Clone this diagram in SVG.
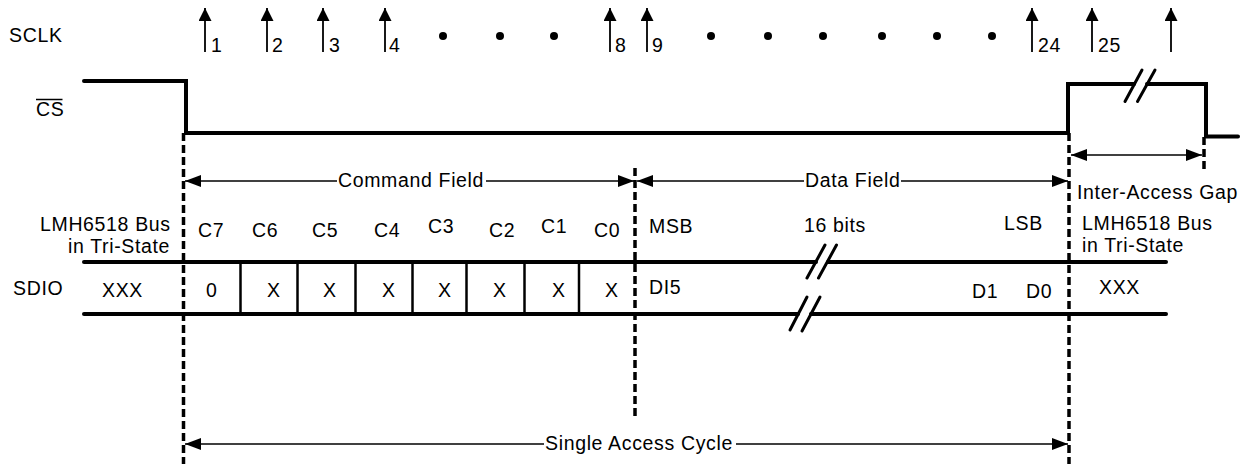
<svg xmlns="http://www.w3.org/2000/svg" width="1252" height="464" viewBox="0 0 1252 464">
<style>
text{font-family:"Liberation Sans",Arial,sans-serif;font-size:19.5px;letter-spacing:0.65px;fill:#000}
.sig{fill:none;stroke:#000;stroke-width:4;stroke-linecap:round;stroke-linejoin:miter}
.dash{fill:none;stroke:#000;stroke-width:3.5;stroke-dasharray:8 4}
.dim{fill:none;stroke:#000;stroke-width:1.5}
.clk{fill:none;stroke:#000;stroke-width:1.8}
.brk{fill:none;stroke:#000;stroke-width:3;stroke-linecap:round}
.div{fill:none;stroke:#000;stroke-width:2.5}
</style>
<defs>
<marker id="ah" markerUnits="userSpaceOnUse" markerWidth="17" markerHeight="13" refX="16" refY="6" orient="auto-start-reverse" viewBox="0 0 17 13">
<path d="M0,0 L16,6 L0,12 z" fill="#000"/>
</marker>
<marker id="ck" markerUnits="userSpaceOnUse" markerWidth="14" markerHeight="14" refX="13" refY="6.5" orient="auto" viewBox="0 0 14 14">
<path d="M0,0 L13,6.5 L0,13 z" fill="#000"/>
</marker>
</defs>
<rect width="1252" height="464" fill="#fff"/>

<g id="sclk">
<text x="9" y="42">SCLK</text>
<g class="clk" marker-end="url(#ck)">
<line x1="205" y1="52" x2="205" y2="8"/>
<line x1="267" y1="52" x2="267" y2="8"/>
<line x1="323" y1="52" x2="323" y2="8"/>
<line x1="385" y1="52" x2="385" y2="8"/>
<line x1="610" y1="52" x2="610" y2="8"/>
<line x1="647" y1="52" x2="647" y2="8"/>
<line x1="1032" y1="52" x2="1032" y2="8"/>
<line x1="1092" y1="52" x2="1092" y2="8"/>
<line x1="1171" y1="52" x2="1171" y2="8"/>
</g>
<text x="211" y="52">1</text>
<text x="272" y="52">2</text>
<text x="329" y="52">3</text>
<text x="389" y="52">4</text>
<text x="615" y="52">8</text>
<text x="652" y="52">9</text>
<text x="1038" y="52">24</text>
<text x="1098" y="52">25</text>
<g fill="#000">
<circle cx="443" cy="36" r="4"/><circle cx="500" cy="36" r="4"/><circle cx="554" cy="36" r="4"/>
<circle cx="711" cy="36" r="4"/><circle cx="768" cy="36" r="4"/><circle cx="823" cy="36" r="4"/>
<circle cx="882" cy="36" r="4"/><circle cx="937" cy="36" r="4"/><circle cx="992" cy="36" r="4"/>
</g>
</g>

<g id="cs">
<text x="36" y="116">CS</text>
<line x1="36" y1="99.5" x2="62.5" y2="99.5" stroke="#000" stroke-width="1.5"/>
<path class="sig" d="M84,81 H186 V133 H1068 V84 H1134"/>
<path class="sig" d="M1147,84 H1206 V136.5 H1238"/>
<line class="brk" x1="1125" y1="101.5" x2="1142" y2="70"/>
<line class="brk" x1="1137.5" y1="101.5" x2="1155" y2="70"/>
</g>

<g id="sdio">
<text x="13" y="295">SDIO</text>
<path class="sig" d="M84,262 H816"/>
<path class="sig" d="M828,262 H1166"/>
<path class="sig" d="M84,314 H798"/>
<path class="sig" d="M811,314 H1166"/>
<line class="brk" x1="807" y1="278" x2="825" y2="245"/>
<line class="brk" x1="818.5" y1="278" x2="836.5" y2="245"/>
<line class="brk" x1="790" y1="330" x2="807" y2="297"/>
<line class="brk" x1="802" y1="331" x2="820" y2="297"/>
<g class="div">
<line x1="240.5" y1="262" x2="240.5" y2="314"/>
<line x1="297.5" y1="262" x2="297.5" y2="314"/>
<line x1="355.5" y1="262" x2="355.5" y2="314"/>
<line x1="412.5" y1="262" x2="412.5" y2="314"/>
<line x1="466.5" y1="262" x2="466.5" y2="314"/>
<line x1="524.5" y1="262" x2="524.5" y2="314"/>
<line x1="579" y1="262" x2="579" y2="314"/>
</g>
<text x="102" y="297">XXX</text>
<text x="206" y="297">0</text>
<text x="267" y="297">X</text>
<text x="323" y="297">X</text>
<text x="382" y="297">X</text>
<text x="438" y="297">X</text>
<text x="493" y="297">X</text>
<text x="552" y="297">X</text>
<text x="605" y="297">X</text>
<text x="649" y="294">DI5</text>
<text x="972" y="298">D1</text>
<text x="1026" y="298">D0</text>
<text x="1099" y="294">XXX</text>
</g>

<g id="labels">
<text x="40" y="231">LMH6518 Bus</text>
<text x="68" y="253">in Tri-State</text>
<text x="1082" y="230">LMH6518 Bus</text>
<text x="1082" y="252">in Tri-State</text>
<text x="198" y="237">C7</text>
<text x="252" y="237">C6</text>
<text x="312" y="237">C5</text>
<text x="374" y="237">C4</text>
<text x="428" y="233">C3</text>
<text x="489" y="237">C2</text>
<text x="541" y="233">C1</text>
<text x="594" y="237">C0</text>
<text x="649" y="233">MSB</text>
<text x="804" y="232">16 bits</text>
<text x="1004" y="230">LSB</text>
</g>

<g id="connectors">
<line class="dash" x1="183.5" y1="133" x2="183.5" y2="464"/>
<line class="dash" x1="635" y1="168" x2="635" y2="416"/>
<line class="dash" x1="1069" y1="133" x2="1069" y2="464"/>
<line class="dash" x1="1204" y1="137" x2="1204" y2="173"/>

<line class="dim" x1="337" y1="181" x2="185" y2="181" marker-end="url(#ah)"/>
<line class="dim" x1="486" y1="181" x2="634" y2="181" marker-end="url(#ah)"/>
<text x="338" y="187">Command Field</text>

<line class="dim" x1="804" y1="181" x2="637" y2="181" marker-end="url(#ah)"/>
<line class="dim" x1="901" y1="181" x2="1068" y2="181" marker-end="url(#ah)"/>
<text x="805" y="187">Data Field</text>

<line class="dim" x1="1071" y1="155" x2="1202" y2="155" marker-start="url(#ah)" marker-end="url(#ah)"/>
<text x="1077" y="199">Inter-Access Gap</text>

<line class="dim" x1="544" y1="444" x2="185" y2="444" marker-end="url(#ah)"/>
<line class="dim" x1="736" y1="444" x2="1068" y2="444" marker-end="url(#ah)"/>
<text x="545" y="450">Single Access Cycle</text>
</g>
</svg>
